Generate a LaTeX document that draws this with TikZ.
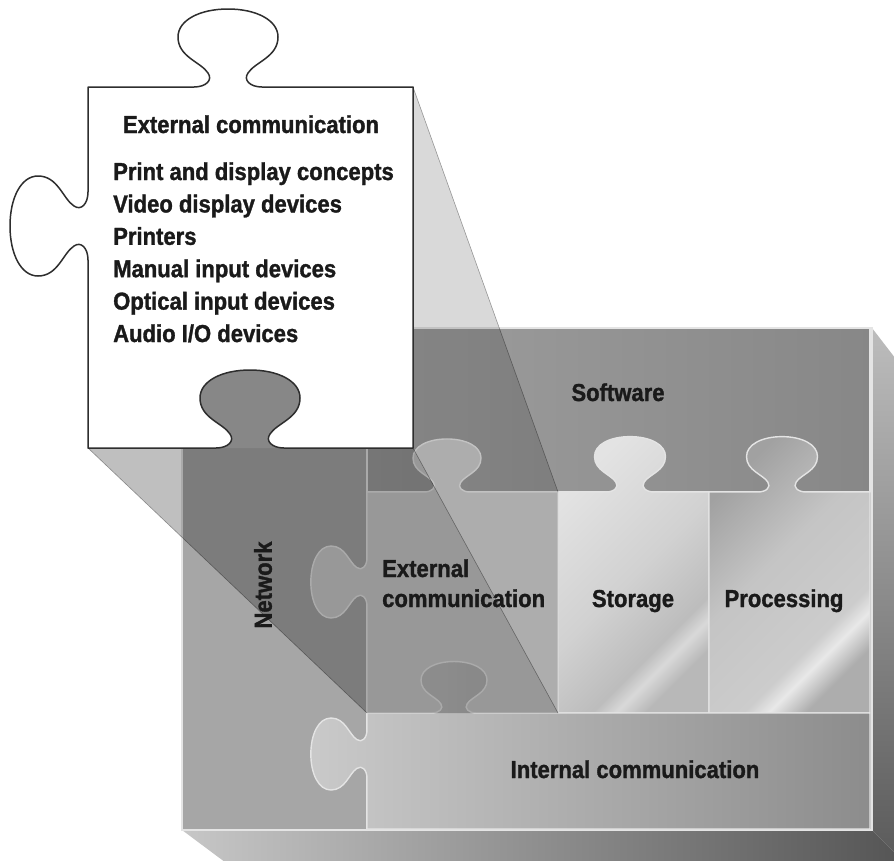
\documentclass[tikz,border=0pt]{standalone}
\usepackage{fontspec}
\setmainfont{Liberation Sans}[FakeStretch=0.9, BoldFeatures={FakeBold=1.3}]

\definecolor{ink}{HTML}{1A1A1A}
\definecolor{seam}{HTML}{E4E4E4}
\definecolor{outline}{HTML}{2E2E2E}
\definecolor{frontgray}{HTML}{A5A5A5}
\definecolor{netgray}{HTML}{A6A6A6}
\definecolor{extgray}{HTML}{CCCCCC}
\definecolor{holegray}{HTML}{878787}

% brushed-metal looks for the two middle pieces (0bp = lower right corner)
\pgfdeclareverticalshading{storsheen}{100bp}{rgb(0bp)=(.72,.72,.72); rgb(25bp)=(.72,.72,.72); rgb(30bp)=(.85,.85,.85); rgb(34bp)=(.74,.74,.74); rgb(50bp)=(.82,.82,.82); rgb(75bp)=(.89,.89,.89); rgb(100bp)=(.89,.89,.89)}
\pgfdeclareverticalshading{procsheen}{100bp}{rgb(0bp)=(.68,.68,.68); rgb(25bp)=(.68,.68,.68); rgb(31bp)=(.91,.91,.91); rgb(35bp)=(.80,.80,.80); rgb(55bp)=(.77,.77,.77); rgb(75bp)=(.63,.63,.63); rgb(100bp)=(.63,.63,.63)}

\tikzset{
  % local frame of one jigsaw knob: centre of its base, rotation, scales
  kt/.style n args={5}{shift={(#1,#2)},rotate=#3,xscale=#4,yscale=#5},
  knob/.style n args={5}{insert path={
    -- ([kt={#1}{#2}{#3}{#4}{#5}]-34,0)
    .. controls ([kt={#1}{#2}{#3}{#4}{#5}]-22,0) and ([kt={#1}{#2}{#3}{#4}{#5}]-15,-7) .. ([kt={#1}{#2}{#3}{#4}{#5}]-20,-14)
    .. controls ([kt={#1}{#2}{#3}{#4}{#5}]-27,-25) and ([kt={#1}{#2}{#3}{#4}{#5}]-50,-30) .. ([kt={#1}{#2}{#3}{#4}{#5}]-50,-50)
    .. controls ([kt={#1}{#2}{#3}{#4}{#5}]-50,-67) and ([kt={#1}{#2}{#3}{#4}{#5}]-28,-78) .. ([kt={#1}{#2}{#3}{#4}{#5}]0,-78)
    .. controls ([kt={#1}{#2}{#3}{#4}{#5}]28,-78) and ([kt={#1}{#2}{#3}{#4}{#5}]50,-67) .. ([kt={#1}{#2}{#3}{#4}{#5}]50,-50)
    .. controls ([kt={#1}{#2}{#3}{#4}{#5}]50,-30) and ([kt={#1}{#2}{#3}{#4}{#5}]27,-25) .. ([kt={#1}{#2}{#3}{#4}{#5}]20,-14)
    .. controls ([kt={#1}{#2}{#3}{#4}{#5}]15,-7) and ([kt={#1}{#2}{#3}{#4}{#5}]22,0) .. ([kt={#1}{#2}{#3}{#4}{#5}]34,0)
  }},
  piece/.style={draw=seam, line width=1.4pt, line join=round},
  beamside/.style={fill=black, fill opacity=0.15},
  beamfloor/.style={fill=black, fill opacity=0.25},
  beamedge/.style={draw=black, draw opacity=0.35, line width=0.6pt},
  txt/.style={font=\fontsize{24.5}{28}\selectfont\bfseries, text=ink, inner sep=0pt},
}

\begin{document}
\begin{tikzpicture}[x=1pt, y=-1pt]
\useasboundingbox (0,0) rectangle (894,860);
\clip (0,0) rectangle (894,860);
\fill[white] (0,0) rectangle (894,860);

% ---- the box: side and floor faces, then the front ----
\shade[top color=black!26, bottom color=black!66]
  (872,328) -- (922,393) -- (922,880) -- (872,830) -- cycle;
\shade[left color=black!22, right color=black!68]
  (182,830) -- (872,830) -- (922,880) -- (249,880) -- cycle;
\filldraw[fill=frontgray, draw=seam, line width=1.6pt] (182,328) rectangle (872,830);

% ---- pieces on the front face ----
\filldraw[piece, fill=netgray] (182,328) rectangle (367,830);
\shadedraw[piece, left color=black!38, right color=black!47] (367,328) rectangle (870,492);
\filldraw[piece, fill=extgray]
  (367,492) [knob={447}{492}{0}{.68}{.68}] -- (558,492) -- (558,713) -- (367,713)
  [knob={367}{582}{90}{.72}{.72}] -- cycle;
\shadedraw[piece, shading=storsheen, shading angle=45]
  (558,492) [knob={630}{492}{0}{.71}{.71}] -- (709,492) -- (709,713) -- (558,713) -- cycle;
\shadedraw[piece, shading=procsheen, shading angle=45]
  (709,492) [knob={782}{492}{0}{.71}{.71}] -- (870,492) -- (870,713) -- (709,713) -- cycle;
\shadedraw[piece, left color=black!21, right color=black!45]
  (367,713) [knob={454}{713}{0}{.66}{.66}] -- (870,713) -- (870,829) -- (367,829)
  [knob={367}{754}{90}{.72}{.72}] -- cycle;

% ---- projection from the enlarged piece down to its place ----
\fill[beamside]  (413,87) -- (558,492) -- (558,713) -- (413,448) -- cycle;
\fill[beamfloor] (88,448) -- (413,448) -- (558,713) -- (367,713) -- cycle;
\draw[beamedge] (413,87) -- (558,492);
\draw[beamedge] (413,448) -- (558,713);
\draw[beamedge] (88,448) -- (367,713);

% ---- the enlarged "External communication" piece ----
\fill[holegray] (284,448) [knob={250}{448}{180}{1}{-1}] -- cycle;
\filldraw[fill=white, draw=outline, line width=1.5pt, line join=round]
  (88,87) [knob={228}{87}{0}{1}{1}] -- (413,87) -- (413,448)
  [knob={250}{448}{180}{1}{-1}] -- (88,448)
  [knob={88}{226}{90}{1}{1}] -- cycle;

\node[txt, anchor=base] (ctitle) at (251,133) {External communication};
\node[txt, anchor=base west] (cline1) at (113,180)   {Print and display concepts};
\node[txt, anchor=base west] (cline2) at (113,212.4) {Video display devices};
\node[txt, anchor=base west] (cline3) at (113,244.8) {Printers};
\node[txt, anchor=base west] (cline4) at (113,277.2) {Manual input devices};
\node[txt, anchor=base west] (cline5) at (113,309.6) {Optical input devices};
\node[txt, anchor=base west] (cline6) at (113,342)   {Audio I/O devices};

% ---- labels of the pieces ----
\node[txt, anchor=base] (software) at (618,401) {Software};
\node[txt, rotate=90] (network) at (263,585) {Network};
\node[txt, anchor=base west] (extA) at (382,577) {External};
\node[txt, anchor=base west] (extB) at (382,607) {communication};
\node[txt, anchor=base] (storage) at (633,607) {Storage};
\node[txt, anchor=base] (processing) at (784,607) {Processing};
\node[txt, anchor=base] (internal) at (635,778) {Internal communication};
\end{tikzpicture}
\end{document}
